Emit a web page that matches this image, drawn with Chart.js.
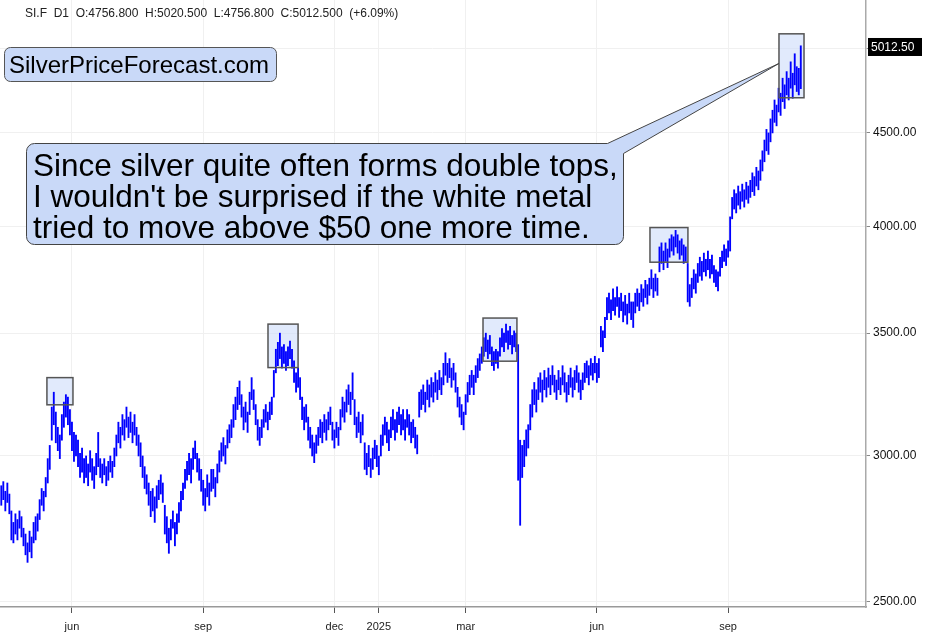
<!DOCTYPE html>
<html lang="en">
<head>
<meta charset="UTF-8">
<title>SI.F D1</title>
<script src="https://cdn.jsdelivr.net/npm/chart.js@4"></script>
<style>
  html, body { margin: 0; padding: 0; background: #fff; }
  #wrap { width: 945px; height: 635px; }
</style>
</head>
<body>
<div id="wrap"><canvas id="chart" width="945" height="635"></canvas></div>
<script>
// one bar per trading day, first bar on this date
const firstDay = '2024-04-15';

// daily lows / highs
const lows = [
  2820,2840,2800,2830,2790,2700,2690,2720,2700,2740,
  2710,2680,2650,2625,2660,2640,2690,2700,2730,2770,
  2820,2800,2850,2900,2950,3060,3120,3050,3020,2990,
  3060,3110,3150,3120,3080,3020,2980,3000,2960,2920,
  2940,2900,2920,2890,2940,2910,2880,2930,2960,2920,
  2900,2930,2890,2910,2940,2920,2960,3000,3050,3030,
  3080,3060,3110,3070,3090,3050,3080,3040,3000,2960,
  2920,2880,2860,2820,2780,2800,2760,2810,2840,2860,
  2830,2720,2690,2655,2700,2740,2680,2720,2760,2800,
  2840,2880,2910,2930,2900,2950,2990,2940,2910,2870,
  2820,2800,2850,2820,2870,2880,2850,2900,2940,2980,
  3000,2970,3030,3050,3070,3110,3140,3180,3200,3150,
  3100,3130,3090,3160,3220,3180,3120,3060,3040,3070,
  3110,3130,3100,3140,3160,3230,3330,3360,3390,3350,
  3370,3340,3360,3390,3350,3290,3250,3270,3220,3140,
  3100,3130,3060,3030,3000,2975,3010,3040,3070,3050,
  3090,3060,3100,3120,3060,3030,3070,3040,3100,3150,
  3130,3170,3200,3160,3220,3120,3070,3090,3050,3080,
  2950,2930,2960,2920,2950,2990,2960,2930,3000,3040,
  3080,3050,3020,3070,3100,3060,3090,3120,3080,3100,
  3060,3110,3080,3050,3070,3030,3008,3150,3180,3200,
  3170,3220,3190,3230,3210,3250,3220,3260,3240,3280,
  3320,3290,3310,3270,3300,3250,3190,3150,3120,3100,
  3160,3210,3240,3270,3240,3290,3310,3340,3370,3400,
  3420,3390,3410,3360,3340,3370,3350,3400,3440,3420,
  3460,3430,3450,3410,3440,3420,2910,2750,2920,2960,
  3000,3030,3100,3150,3200,3170,3220,3250,3210,3260,
  3230,3270,3240,3280,3250,3220,3260,3240,3280,3250,
  3210,3240,3270,3230,3260,3290,3250,3220,3260,3290,
  3310,3280,3320,3300,3330,3290,3310,3440,3420,3480,
  3560,3590,3560,3600,3580,3620,3570,3600,3550,3580,
  3540,3590,3560,3525,3590,3620,3600,3640,3620,3660,
  3630,3670,3700,3660,3690,3670,3780,3820,3790,3830,
  3800,3850,3880,3860,3900,3870,3840,3860,3820,3830,
  3640,3620,3660,3700,3680,3730,3760,3740,3780,3760,
  3790,3750,3770,3730,3710,3690,3760,3800,3830,3810,
  3850,3880,4040,4090,4070,4110,4090,4130,4100,4140,
  4120,4150,4180,4160,4210,4190,4240,4290,4340,4400,
  4380,4450,4500,4560,4540,4620,4600,4680,4640,4720,
  4690,4760,4700,4780,4740,4720,4757
];
const highs = [
  2890,2905,2870,2900,2860,2800,2760,2790,2770,2800,
  2780,2740,2720,2690,2730,2710,2760,2780,2790,2840,
  2880,2870,2920,2990,3040,3190,3250,3170,3110,3080,
  3160,3210,3240,3230,3180,3130,3090,3080,3060,3010,
  3030,2990,3000,2970,3020,2990,2960,3010,3090,2990,
  2970,2990,2960,2980,3000,2980,3030,3080,3130,3110,
  3160,3140,3190,3150,3170,3130,3160,3110,3080,3050,
  3000,2960,2930,2900,2870,2880,2850,2890,2910,2930,
  2900,2820,2780,2740,2770,2800,2760,2790,2830,2870,
  2900,2950,2980,3010,2990,3030,3057,3010,2990,2950,
  2910,2880,2930,2900,2950,2950,2920,2970,3020,3050,
  3070,3040,3100,3120,3140,3200,3230,3270,3296,3240,
  3190,3210,3170,3250,3310,3260,3200,3140,3110,3140,
  3180,3200,3170,3210,3230,3340,3430,3460,3500,3440,
  3450,3420,3440,3465,3430,3380,3330,3350,3310,3230,
  3190,3200,3150,3110,3080,3050,3080,3110,3140,3130,
  3160,3140,3170,3190,3130,3100,3130,3110,3180,3230,
  3210,3260,3280,3250,3330,3220,3150,3170,3130,3160,
  3050,3010,3040,2990,3030,3060,3040,3000,3080,3120,
  3150,3130,3100,3150,3180,3140,3170,3190,3160,3180,
  3140,3180,3160,3130,3140,3110,3080,3250,3260,3280,
  3250,3300,3280,3310,3290,3330,3300,3340,3310,3370,
  3415,3370,3390,3350,3370,3330,3270,3230,3200,3170,
  3240,3290,3320,3340,3320,3360,3390,3410,3440,3480,
  3500,3470,3490,3440,3420,3430,3420,3480,3520,3500,
  3540,3510,3530,3490,3510,3500,3450,3060,3040,3060,
  3100,3120,3200,3260,3290,3260,3310,3330,3300,3340,
  3310,3350,3320,3360,3320,3300,3340,3310,3360,3330,
  3290,3320,3350,3310,3340,3360,3330,3300,3330,3370,
  3380,3360,3390,3370,3400,3370,3390,3530,3510,3570,
  3660,3680,3650,3700,3660,3710,3660,3680,3640,3670,
  3630,3680,3640,3640,3680,3700,3680,3720,3700,3740,
  3720,3750,3790,3750,3770,3750,3900,3920,3880,3920,
  3890,3940,3960,3950,3982,3960,3930,3940,3910,3900,
  3820,3720,3750,3790,3770,3820,3850,3830,3870,3840,
  3880,3840,3860,3810,3790,3780,3850,3880,3910,3890,
  3930,4050,4150,4190,4170,4210,4180,4220,4190,4230,
  4210,4240,4280,4260,4310,4290,4350,4400,4460,4520,
  4500,4580,4630,4690,4660,4760,4730,4820,4780,4860,
  4820,4920,4850,4970,4890,4880,5020
];

const yTicks = [2500, 3000, 3500, 4000, 4500, 5000];
const monthNames = ['jan', 'feb', 'mar', 'apr', 'may', 'jun', 'jul', 'aug', 'sep', 'oct', 'nov', 'dec'];
const labelMonths = [0, 2, 5, 8, 11];

// highlighted tops: [first bar, last bar, low price, high price]
const topBoxes = [
  [22.6, 35.5, 3199, 3310],
  [132.1, 147, 3352, 3540],
  [238.6, 255.4, 3379, 3567],
  [321.3, 340.1, 3826, 3996],
  [385.2, 397.6, 4703, 5096]
];
const calloutTarget = [385.2, 4910];

const header = 'SI.F  D1  O:4756.800  H:5020.500  L:4756.800  C:5012.500  (+6.09%)';
const lastPrice = 5012.50;
const siteName = 'SilverPriceForecast.com';
const calloutLines = [
  'Since silver quite often forms double tops,',
  "I wouldn't be surprised if the white metal",
  'tried to move above $50 one more time.'
];

// trading days (mon-fri) for the x axis labels
const tradingDays = [];
const day = new Date(firstDay + 'T12:00:00');
while (tradingDays.length < lows.length) {
  if (day.getDay() !== 0 && day.getDay() !== 6) tradingDays.push(new Date(day));
  day.setDate(day.getDate() + 1);
}
const monthTicks = [];
tradingDays.forEach((d, i) => {
  if (i > 0 && d.getMonth() !== tradingDays[i - 1].getMonth() && labelMonths.includes(d.getMonth())) {
    monthTicks.push({ value: i, label: d.getMonth() === 0 ? String(d.getFullYear()) : monthNames[d.getMonth()] });
  }
});

const bars = lows.map((lo, i) => ({ x: i, y: [lo, highs[i]] }));

const FONT = '"Liberation Sans", Arial, Helvetica, sans-serif';
const boxBlue = '#c9d9f8';

const overlay = {
  id: 'overlay',
  beforeDatasetsDraw(chart) {
    const ctx = chart.ctx, xs = chart.scales.x, ys = chart.scales.y;
    ctx.save();
    ctx.fillStyle = 'rgba(205, 220, 250, 0.6)';
    topBoxes.forEach(b => {
      const x1 = xs.getPixelForValue(b[0]), x2 = xs.getPixelForValue(b[1]);
      const y1 = ys.getPixelForValue(b[3]), y2 = ys.getPixelForValue(b[2]);
      ctx.fillRect(x1, y1, x2 - x1, y2 - y1);
    });
    ctx.restore();
  },
  afterDatasetsDraw(chart) {
    const ctx = chart.ctx, xs = chart.scales.x, ys = chart.scales.y;
    ctx.save();
    ctx.strokeStyle = '#555';
    ctx.lineWidth = 1.5;
    topBoxes.forEach(b => {
      const x1 = xs.getPixelForValue(b[0]), x2 = xs.getPixelForValue(b[1]);
      const y1 = ys.getPixelForValue(b[3]), y2 = ys.getPixelForValue(b[2]);
      ctx.strokeRect(x1, y1, x2 - x1, y2 - y1);
    });
    ctx.restore();
  },
  afterDraw(chart) {
    const ctx = chart.ctx, xs = chart.scales.x, ys = chart.scales.y;
    ctx.save();

    // header line
    ctx.fillStyle = '#222';
    ctx.font = '12px ' + FONT;
    ctx.textBaseline = 'alphabetic';
    ctx.fillText(header, 25, 17);

    // site label
    ctx.beginPath();
    ctx.roundRect(4.5, 47.5, 272, 34, 6);
    ctx.fillStyle = boxBlue;
    ctx.fill();
    ctx.strokeStyle = '#555';
    ctx.lineWidth = 1;
    ctx.stroke();
    ctx.fillStyle = '#000';
    ctx.font = '24px ' + FONT;
    ctx.fillText(siteName, 9, 73);

    // callout with pointer
    const bx = 26.5, by = 143.5, bw = 597, bh = 101, r = 8;
    const tx = xs.getPixelForValue(calloutTarget[0]), ty = ys.getPixelForValue(calloutTarget[1]);
    ctx.beginPath();
    ctx.moveTo(bx + r, by);
    ctx.lineTo(bx + bw - 16, by);
    ctx.lineTo(tx, ty);
    ctx.lineTo(bx + bw, by + 10);
    ctx.lineTo(bx + bw, by + bh - r);
    ctx.arcTo(bx + bw, by + bh, bx + bw - r, by + bh, r);
    ctx.lineTo(bx + r, by + bh);
    ctx.arcTo(bx, by + bh, bx, by + bh - r, r);
    ctx.lineTo(bx, by + r);
    ctx.arcTo(bx, by, bx + r, by, r);
    ctx.closePath();
    ctx.fillStyle = boxBlue;
    ctx.fill();
    ctx.strokeStyle = '#444';
    ctx.stroke();
    ctx.fillStyle = '#000';
    ctx.font = '31.5px ' + FONT;
    calloutLines.forEach((line, i) => ctx.fillText(line, 33, 176 + i * 31));

    // last price label on the axis
    const py = ys.getPixelForValue(lastPrice);
    ctx.fillStyle = '#000';
    ctx.fillRect(868, py - 9, 54, 18);
    ctx.fillStyle = '#fff';
    ctx.font = '12px ' + FONT;
    ctx.textBaseline = 'middle';
    ctx.fillText(lastPrice.toFixed(2), 871, py + 0.5);

    ctx.restore();
  }
};

Chart.defaults.font.family = FONT;

new Chart(document.getElementById('chart'), {
  type: 'bar',
  data: {
    datasets: [{
      data: bars,
      backgroundColor: 'rgb(0, 0, 255)',
      borderWidth: 0,
      barThickness: 1.2,
      grouped: false
    }]
  },
  options: {
    responsive: false,
    animation: false,
    layout: { padding: 0 },
    plugins: { legend: { display: false }, tooltip: { enabled: false } },
    scales: {
      x: {
        type: 'linear',
        min: -0.64,
        max: 428.3,
        offset: false,
        grid: { offset: false, color: '#f0f0f0', tickColor: '#555', tickLength: 6 },
        border: { color: '#999', width: 1.5 },
        afterBuildTicks: s => { s.ticks = monthTicks.map(t => ({ value: t.value })); },
        ticks: {
          autoSkip: false,
          maxRotation: 0,
          padding: 7,
          color: '#222',
          font: { size: 11 },
          callback: v => (monthTicks.find(t => t.value === v) || {}).label || ''
        },
        afterFit: s => { s.height = 28; s.paddingLeft = 0; s.paddingRight = 0; }
      },
      y: {
        type: 'logarithmic',
        position: 'right',
        min: 2482,
        max: 5317,
        beginAtZero: false,
        grid: { color: '#f0f0f0', tickColor: '#888', tickLength: 4 },
        border: { color: '#aaa', width: 1.5 },
        afterBuildTicks: s => { s.ticks = yTicks.map(v => ({ value: v })); },
        ticks: {
          padding: 3,
          color: '#111',
          font: { size: 12 },
          callback: v => (v === 5000 ? '' : Number(v).toFixed(2))
        },
        afterFit: s => { s.width = 79; s.paddingTop = 0; s.paddingBottom = 0; }
      }
    }
  },
  plugins: [overlay]
});
</script>
</body>
</html>
